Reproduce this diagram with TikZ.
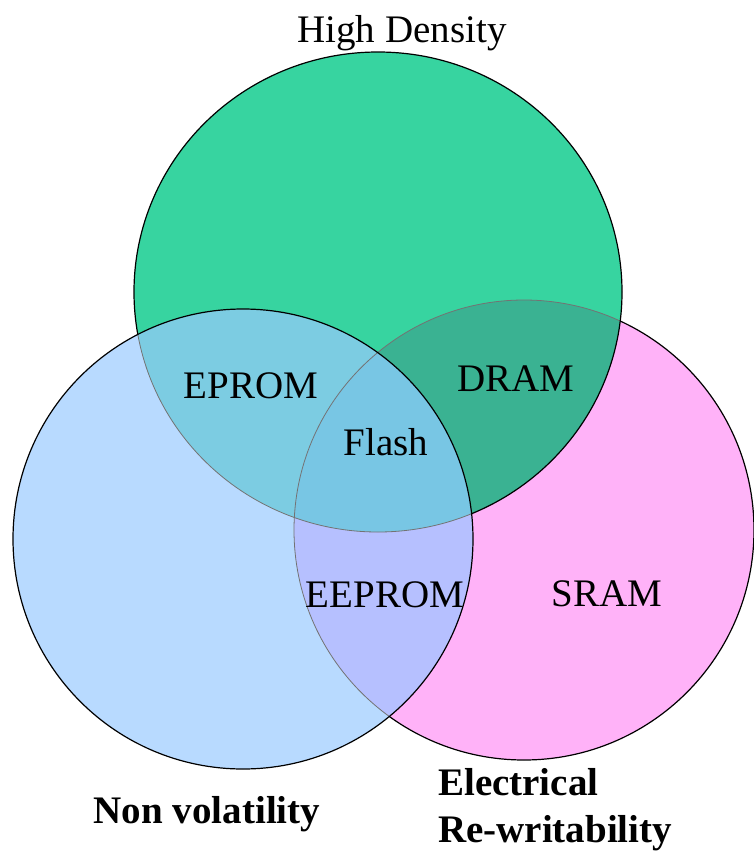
\documentclass[tikz,border=0pt]{standalone}
\usepackage{fontspec}
\setmainfont{Liberation Serif}
\begin{document}
\begin{tikzpicture}[x=1pt,y=-1pt,
  lbl/.style={inner sep=0pt,font=\fontsize{39}{47}\selectfont},
  blbl/.style={inner sep=0pt,font=\fontsize{39}{47}\selectfont\bfseries,align=left},
  edge/.style={draw=black,line width=1.2pt},
  faint/.style={draw=black!55,line width=0.8pt}]
\definecolor{cgreen}{RGB}{55,212,160}
\definecolor{cblue}{RGB}{184,218,255}
\definecolor{cpink}{RGB}{255,178,248}
\definecolor{ceprom}{RGB}{124,204,226}
\definecolor{cdram}{RGB}{58,178,146}
\definecolor{cflash}{RGB}{120,198,228}
\definecolor{ceeprom}{RGB}{182,192,255}
\useasboundingbox (0,0) rectangle (753,852);
\def\gE{(378,292) ellipse [x radius=244,y radius=240]}
\def\bE{(243,539) ellipse [x radius=230,y radius=230]}
\def\pE{(524,530) ellipse [x radius=230,y radius=230]}
% pink layer
\fill[cpink] \pE;
\draw[edge] \pE;
% green layer
\fill[cgreen] \gE;
\begin{scope}\clip \gE; \fill[cdram] \pE; \draw[faint] \pE; \end{scope}
\draw[edge] \gE;
% blue layer
\fill[cblue] \bE;
\begin{scope}\clip \bE; \fill[ceprom] \gE; \fill[ceeprom] \pE;
  \clip \gE; \fill[cflash] \pE; \end{scope}
\begin{scope}\clip \bE; \draw[faint] \gE; \draw[faint] \pE; \end{scope}
\draw[edge] \bE;
% labels
\node[lbl,anchor=base] (hd) at (402,42) {High Density};
\node[lbl,anchor=base] (eprom) at (251,398) {EPROM};
\node[lbl,anchor=base] (dram) at (516,391) {DRAM};
\node[lbl,anchor=base] (flash) at (386,455) {Flash};
\node[lbl,anchor=base] (eeprom) at (385,607) {EEPROM};
\node[lbl,anchor=base] (sram) at (607,606) {SRAM};
\node[blbl,anchor=base] (nv) at (207,823) {Non volatility};
\node[blbl,anchor=base west] (el1) at (438,795) {Electrical};
\node[blbl,anchor=base west] (el2) at (438,842) {Re-writability};
\end{tikzpicture}
\end{document}
